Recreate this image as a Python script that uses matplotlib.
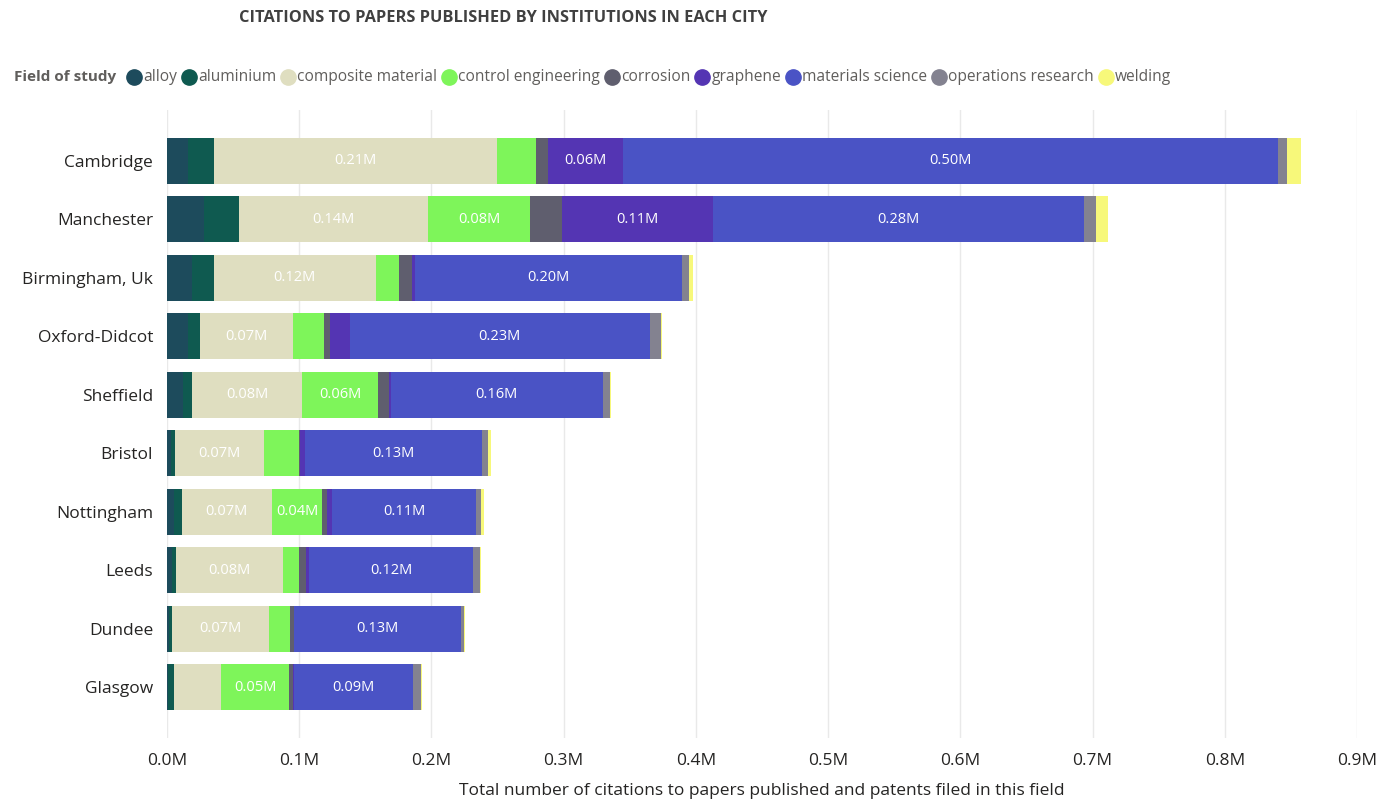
#!/usr/bin/env python3
"""
Stacked horizontal bars: citations per field of study, by city.
"""
import numpy as np
import matplotlib
matplotlib.use('Agg')
import matplotlib.pyplot as plt
from matplotlib.lines import Line2D

cities = ['Cambridge', 'Manchester', 'Birmingham, Uk', 'Oxford-Didcot', 'Sheffield',
          'Bristol', 'Nottingham', 'Leeds', 'Dundee', 'Glasgow']

fields = ['alloy', 'aluminium', 'composite material', 'control engineering', 'corrosion',
          'graphene', 'materials science', 'operations research', 'welding']

# values in millions of citations, one list per field (same order as cities)
alloy = [0.0159, 0.0283, 0.0188, 0.0159, 0.0121, 0.0030, 0.0053, 0.0040, 0.0015, 0.0010]
aluminium = [0.0194, 0.0260, 0.0167, 0.0090, 0.0070, 0.0030, 0.0057, 0.0030, 0.0020, 0.0045]
composite = [0.2141, 0.1434, 0.1223, 0.0705, 0.0829, 0.0676, 0.0684, 0.0807, 0.0739, 0.0357]
control_eng = [0.0295, 0.0772, 0.0173, 0.0234, 0.0578, 0.0259, 0.0382, 0.0118, 0.0153, 0.0508]
corrosion = [0.0090, 0.0237, 0.0099, 0.0046, 0.0081, 0.0010, 0.0033, 0.0060, 0.0033, 0.0035]
graphene = [0.0566, 0.1140, 0.0029, 0.0148, 0.0015, 0.0038, 0.0037, 0.0020, 0.0003, 0.0002]
materials_sci = [0.4960, 0.2806, 0.2017, 0.2271, 0.1601, 0.1339, 0.1093, 0.1237, 0.1259, 0.0907]
ops_research = [0.0066, 0.0094, 0.0052, 0.0080, 0.0052, 0.0045, 0.0038, 0.0057, 0.0025, 0.0058]
welding = [0.0103, 0.0094, 0.0032, 0.0014, 0.0014, 0.0023, 0.0020, 0.0005, 0.0003, 0.0007]

series = [alloy, aluminium, composite, control_eng, corrosion, graphene,
          materials_sci, ops_research, welding]

colors = ['#1d4b5c', '#0f5a50', '#dfdec0', '#7ef55a', '#5f5e6e',
          '#5435b3', '#4a53c5', '#838290', '#f7f87a']

LABEL_MIN = 0.037  # segments narrower than this get no data label
FONT = 'Open Sans'

fig = plt.figure(figsize=(13.98, 8), dpi=100)
ax = fig.add_axes([167/1398, 1 - 738/800, (1357 - 167)/1398, (738 - 110)/800])

y = np.arange(len(cities))
left = np.zeros(len(cities))
for vals, col in zip(series, colors):
    vals = np.asarray(vals)
    ax.barh(y, vals, left=left, height=0.79, color=col, linewidth=0, zorder=3)
    for i, v in enumerate(vals):
        if v >= LABEL_MIN:
            ax.text(left[i] + v / 2, y[i], f'{v:.2f}M', ha='center', va='center',
                    color='white', fontsize=10.5, family=FONT, zorder=4)
    left += vals

ax.set_xlim(0, 0.9)
ax.set_ylim(len(cities) - 1 + 0.87, -0.87)
ax.set_xticks(np.arange(0, 0.91, 0.1))
ax.set_xticklabels([f'{t:.1f}M' for t in np.arange(0, 0.91, 0.1)],
                   fontsize=12.5, family=FONT, color='#252423')
ax.set_yticks(y)
ax.set_yticklabels(cities, fontsize=12.5, family=FONT, color='#252423')
ax.tick_params(axis='both', length=0)
ax.tick_params(axis='y', pad=10)
ax.tick_params(axis='x', pad=11)
ax.grid(axis='x', color='#e9e9e9', linewidth=1, zorder=0)
for s in ax.spines.values():
    s.set_visible(False)
ax.set_xlabel('Total number of citations to papers published and patents filed in this field',
              fontsize=12.5, family=FONT, color='#252423', labelpad=10)

fig.text(503/1398, 1 - 18/800, 'CITATIONS TO PAPERS PUBLISHED BY INSTITUTIONS IN EACH CITY',
         ha='center', va='center', fontsize=11.8, fontweight='bold', family=FONT,
         color='#404040')

# legend row laid out item by item
fig.canvas.draw()
rend = fig.canvas.get_renderer()
ly = 1 - 77/800
head = fig.text(14/1398, ly, 'Field of study', ha='left', va='center', fontsize=11,
                fontweight='bold', family=FONT, color='#605e5c')
x = head.get_window_extent(rend).x1 + 11
for name, col in zip(fields, colors):
    fig.add_artist(Line2D([(x + 7)/1398], [ly], marker='o', markersize=11,
                          color=col, linestyle='none', transform=fig.transFigure))
    t = fig.text((x + 16)/1398, ly, name, ha='left', va='center', fontsize=11.2,
                 family=FONT, color='#605e5c')
    x = t.get_window_extent(rend).x1 + 5

fig.savefig('out.png', dpi=100)
